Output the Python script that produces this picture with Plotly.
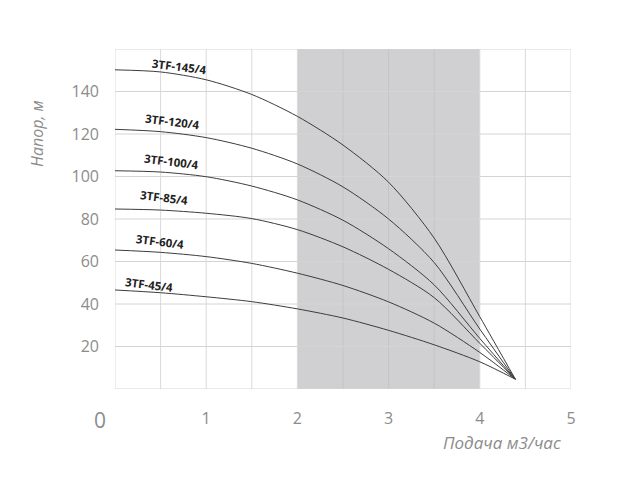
import plotly.graph_objects as go

flow = [0, 0.5, 1, 1.5, 2, 2.5, 3, 3.5, 4, 4.39]
models = ["3TF-145/4", "3TF-120/4", "3TF-100/4", "3TF-85/4", "3TF-60/4", "3TF-45/4"]
head_145 = [150.2, 149.2, 145.5, 138.6, 128.3, 114.8, 97.3, 71.0, 34.0, 4.6]
head_120 = [122.2, 121.1, 118.3, 113.3, 105.9, 95.1, 80.0, 59.5, 28.2, 4.6]
head_100 = [102.7, 102.1, 99.9, 95.5, 89.0, 79.4, 66.0, 49.0, 23.8, 4.6]
head_85 = [84.7, 84.2, 82.7, 80.2, 75.0, 66.9, 56.3, 43.0, 21.5, 4.6]
head_60 = [65.4, 64.3, 62.3, 59.1, 54.5, 48.7, 41.0, 31.0, 17.2, 4.6]
head_45 = [46.6, 45.3, 43.4, 41.1, 37.7, 33.4, 27.6, 20.8, 12.8, 4.6]
heads = [head_145, head_120, head_100, head_85, head_60, head_45]
label_x = [0.71, 0.63, 0.62, 0.54, 0.495, 0.37]
label_y = [152, 126, 107, 90, 69.6, 49]
shade_range = [2, 4]
x_ticks = [1, 2, 3, 4, 5]
y_ticks = [20, 40, 60, 80, 100, 120, 140]

W, H = 622, 478
BODY = 8                      # browser body margin offset
PX0, PX1, PY0, PY1 = 115, 571, 49, 389   # plot area in screenshot pixels
L = PX0 - BODY
T = PY0 - BODY
R = W - L - (PX1 - PX0)
B = H - T - (PY1 - PY0)


def to_paper(px, py):
    return (px - PX0) / (PX1 - PX0), (PY1 - py) / (PY1 - PY0)


fig = go.Figure()
for name, h in zip(models, heads):
    fig.add_trace(go.Scatter(x=flow, y=h, mode="lines", name=name,
                             line=dict(color="#3c3c3c", width=1, shape="spline", smoothing=0.8),
                             hoverinfo="skip", showlegend=False))

fig.add_shape(type="rect", xref="x", yref="y", x0=shade_range[0], x1=shade_range[1],
              y0=0, y1=160, fillcolor="#d0d0d2", line=dict(width=0), layer="below")

for gx in [0.5 * i for i in range(0, 11)]:
    fig.add_shape(type="line", xref="x", yref="y", x0=gx, x1=gx, y0=0, y1=160,
                  line=dict(color="#c4c4c6" if shade_range[0] < gx < shade_range[1] else "#dadada", width=1),
                  layer="below")
for gy in [20 * i for i in range(0, 9)]:
    fig.add_shape(type="line", xref="x", yref="y", x0=0, x1=5, y0=gy, y1=gy,
                  line=dict(color="#d4d4d4", width=1), layer="below")

for name, lx, ly in zip(models, label_x, label_y):
    fig.add_annotation(x=lx, y=ly, text="<b>" + name + "</b>", showarrow=False,
                       textangle=7, xanchor="center", yanchor="middle",
                       font=dict(family="Open Sans", size=11.5, color="#222222"))

fig.add_annotation(x=0, y=0, xref="x", yref="y", text="0", showarrow=False,
                   xanchor="center", yanchor="middle",
                   xshift=-15, yshift=-31, font=dict(family="Open Sans", size=21, color="#8c8c8c"))

ax, ay = to_paper(37, 134)
fig.add_annotation(x=ax, y=ay, xref="paper", yref="paper", text="<i>Напор, м</i>", showarrow=False,
                   textangle=-90, xanchor="center", yanchor="middle",
                   font=dict(family="Open Sans", size=16, color="#8c8c8c"))
bx, by = to_paper(502, 443)
fig.add_annotation(x=bx, y=by, xref="paper", yref="paper", text="<i>Подача м3/час</i>", showarrow=False,
                   xanchor="center", yanchor="middle",
                   font=dict(family="Open Sans", size=17, color="#8c8c8c"))

fig.update_layout(
    width=W, height=H,
    margin=dict(l=L, r=R, t=T, b=B, autoexpand=False),
    plot_bgcolor="white", paper_bgcolor="white",
    xaxis=dict(range=[0, 5], tickvals=x_ticks, showgrid=False,
               zeroline=False, showline=False, ticks="",
               ticklabelstandoff=18,
               tickfont=dict(family="Open Sans", size=16, color="#8c8c8c")),
    yaxis=dict(range=[0, 160], tickvals=y_ticks, showgrid=False,
               zeroline=False, showline=False, ticks="",
               ticklabelstandoff=15,
               tickfont=dict(family="Open Sans", size=16, color="#8c8c8c")),
)

fig.write_html("out.html")
